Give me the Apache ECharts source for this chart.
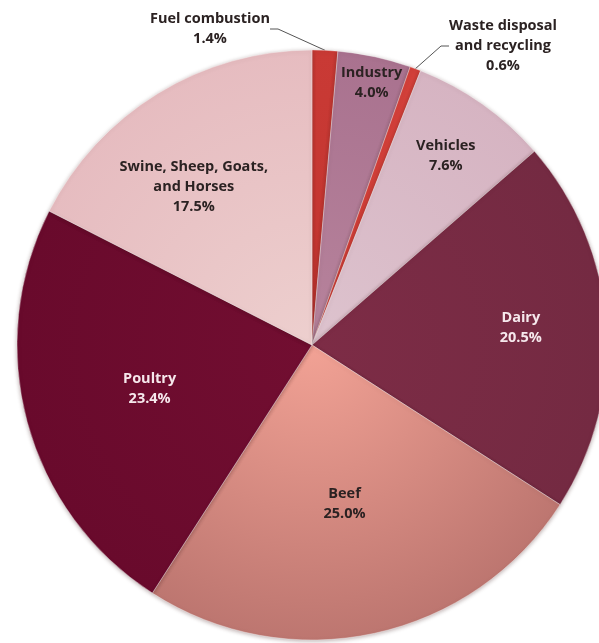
<!DOCTYPE html>
<html>
<head>
<meta charset="utf-8">
<script src="https://cdn.jsdelivr.net/npm/echarts@6/dist/echarts.min.js"></script>
<style>
  html, body { margin: 0; padding: 0; background: #ffffff; }
  #chart { width: 599px; height: 643px; }
</style>
</head>
<body>
<div id="chart"></div>
<script>
// Sources of the emissions, clockwise from 12 o'clock
const categories = [
  'Fuel combustion',
  'Industry',
  'Waste disposal\nand recycling',
  'Vehicles',
  'Dairy',
  'Beef',
  'Poultry',
  'Swine, Sheep, Goats,\nand Horses'
];
const shares = [1.4, 4.0, 0.6, 7.6, 20.5, 25.0, 23.4, 17.5];

// Slice fills: inner colour -> rim colour
const fillInner = ['#c2342f', '#b7839c', '#d23e37', '#ddc3ce', '#7d2c46', '#f2a295', '#720e31', '#edcfce'];
const fillOuter = ['#c93a35', '#a9728f', '#d2403a', '#d6b4c2', '#742a42', '#bd7670', '#690a2c', '#e6bcc0'];
const textColors = ['#2b2222', '#2b2222', '#2b2222', '#2b2222', '#f6e8ec', '#2b2222', '#f6e8ec', '#2b2222'];

// Where the inside labels sit: fraction of the radius, plus a small angular nudge (deg)
const labelRadiusFrac = [0, 0.90, 0, 0.775, 0.70, 0.54, 0.56, 0.66];
const labelAngleShift = [0, 0.6, 0, 0, -0.5, 0.7, 0, -5.3];
// Callout labels (outside the pie), block centres in px
const callouts = { 0: [210, 29], 2: [503, 46] };

const CX = 312, CY = 345, R = 295;

const chart = echarts.init(document.getElementById('chart'), null, { renderer: 'canvas' });

let cum = 0;
const data = shares.map((v, i) => {
  const mid = (cum + v / 2) / 100 * 360;
  cum += v;
  const item = {
    name: categories[i],
    value: v,
    itemStyle: {
      color: {
        type: 'radial', x: CX, y: CY, r: R, global: true,
        colorStops: [
          { offset: 0, color: fillInner[i] },
          { offset: 1, color: fillOuter[i] }
        ]
      }
    }
  };
  if (callouts[i]) {
    item.label = { position: 'outside', color: '#2b2222' };
    item.labelLine = { show: true, length: 12, length2: 8 };
  } else {
    const a0 = mid * Math.PI / 180;
    const a1 = (mid + labelAngleShift[i]) * Math.PI / 180;
    const rt = labelRadiusFrac[i] * R;
    const r0 = R / 2;
    item.label = {
      position: 'inside',
      color: textColors[i],
      offset: [rt * Math.sin(a1) - r0 * Math.sin(a0), -(rt * Math.cos(a1) - r0 * Math.cos(a0))]
    };
    item.labelLine = { show: false };
  }
  return item;
});

chart.setOption({
  backgroundColor: '#ffffff',
  animation: false,
  series: [{
    type: 'pie',
    center: [CX, CY],
    radius: R,
    startAngle: 90,
    clockwise: true,
    avoidLabelOverlap: false,
    minShowLabelAngle: 0,
    data: data,
    itemStyle: {
      borderColor: 'rgba(255,255,255,0.35)',
      borderWidth: 1,
      shadowBlur: 4,
      shadowOffsetY: 1,
      shadowColor: 'rgba(60,20,20,0.35)'
    },
    label: {
      show: true,
      fontFamily: 'Open Sans',
      fontWeight: 'bold',
      fontSize: 14.5,
      lineHeight: 20,
      align: 'center',
      formatter: p => p.name + '\n' + p.value.toFixed(1) + '%'
    },
    labelLine: {
      lineStyle: { color: '#555555', width: 1 }
    },
    labelLayout: params => {
      const pos = callouts[params.dataIndex];
      if (!pos) return {};
      return { x: pos[0], y: pos[1], align: 'center', verticalAlign: 'middle' };
    }
  }]
});
</script>
</body>
</html>
